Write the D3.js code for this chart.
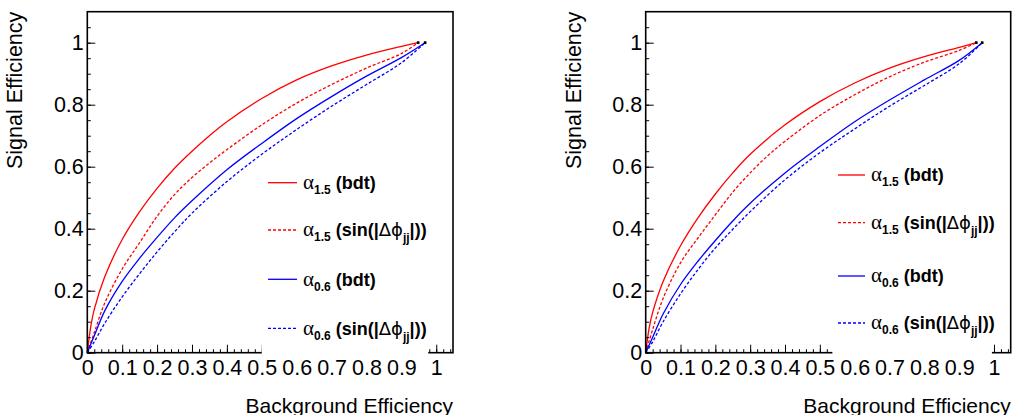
<!DOCTYPE html>
<html>
<head>
<meta charset="utf-8">
<script src="https://cdn.jsdelivr.net/npm/d3@7"></script>
<style>
  body { margin: 0; background: #fff; }
  svg { display: block; }
  text { font-family: "Liberation Sans", Arial, Helvetica, sans-serif; fill: #000; }
</style>
</head>
<body>
<div id="viz"></div>
<script>
'use strict';

// ROC curves: [background efficiency, signal efficiency]
const leftRedBdt = [[0,0],[0.01,0.085],[0.02,0.14],[0.05,0.245],[0.1,0.365],[0.15,0.455],[0.2,0.53],[0.25,0.595],
  [0.3,0.65],[0.35,0.7],[0.4,0.745],[0.5,0.82],[0.6,0.88],[0.7,0.925],[0.8,0.96],[0.9,0.988],[0.948,1]];
const leftRedSin = [[0,0],[0.02,0.065],[0.05,0.16],[0.1,0.27],[0.15,0.355],[0.2,0.44],[0.25,0.51],[0.3,0.565],
  [0.35,0.612],[0.4,0.655],[0.5,0.735],[0.6,0.805],[0.7,0.865],[0.8,0.918],[0.9,0.965],[0.948,1]];
const leftBlueBdt = [[0,0],[0.02,0.055],[0.05,0.135],[0.1,0.23],[0.15,0.305],[0.2,0.372],[0.25,0.435],[0.3,0.49],
  [0.4,0.59],[0.5,0.675],[0.6,0.755],[0.7,0.826],[0.8,0.892],[0.9,0.952],[0.968,1]];
const leftBlueSin = [[0,0],[0.02,0.035],[0.05,0.095],[0.1,0.18],[0.15,0.255],[0.2,0.325],[0.25,0.39],[0.3,0.45],
  [0.4,0.552],[0.5,0.64],[0.6,0.72],[0.7,0.795],[0.8,0.865],[0.9,0.935],[0.968,1]];

const rightRedBdt = [[0,0],[0.01,0.08],[0.02,0.13],[0.05,0.23],[0.1,0.345],[0.15,0.435],[0.2,0.512],[0.25,0.58],
  [0.3,0.64],[0.4,0.735],[0.5,0.81],[0.6,0.87],[0.7,0.918],[0.8,0.955],[0.9,0.985],[0.949,1]];
const rightRedSin = [[0,0],[0.02,0.075],[0.05,0.175],[0.1,0.29],[0.15,0.37],[0.2,0.445],[0.25,0.518],[0.3,0.58],
  [0.35,0.635],[0.4,0.682],[0.5,0.765],[0.6,0.832],[0.7,0.89],[0.8,0.937],[0.9,0.975],[0.949,1]];
const rightBlueBdt = [[0,0],[0.02,0.05],[0.05,0.125],[0.1,0.22],[0.15,0.295],[0.2,0.362],[0.25,0.425],[0.3,0.482],
  [0.4,0.58],[0.5,0.665],[0.6,0.745],[0.7,0.815],[0.8,0.88],[0.9,0.943],[0.966,1]];
const rightBlueSin = [[0,0],[0.02,0.035],[0.05,0.1],[0.1,0.19],[0.15,0.268],[0.2,0.338],[0.25,0.398],[0.3,0.455],
  [0.4,0.558],[0.5,0.645],[0.6,0.722],[0.7,0.795],[0.8,0.862],[0.9,0.932],[0.966,1]];

const xMajor = [0, 0.1, 0.2, 0.3, 0.4, 0.5, 0.6, 0.7, 0.8, 0.9, 1];
const xLabels = ['0', '0.1', '0.2', '0.3', '0.4', '0.5', '0.6', '0.7', '0.8', '0.9', '1'];
const yMajor = [0, 0.2, 0.4, 0.6, 0.8, 1];
const yLabels = ['0', '0.2', '0.4', '0.6', '0.8', '1'];

// legend: subscript of alpha and discriminating variable, drawn in this order
const legendSubs = ['1.5', '1.5', '0.6', '0.6'];
const legendVars = ['bdt', 'sin', 'bdt', 'sin'];

const xTitle = 'Background Efficiency';
const yTitle = 'Signal Efficiency';

const W = 1012, H = 415;

const svg = d3.select('#viz')
  .append('svg')
    .attr('width', W)
    .attr('height', H);

const panels = [
  {left: 87.3, top: 11.7, width: 365.7, height: 341, gap: [0.5, 0.977],
    legX: 268, legLen: 29, legY: [182.7, 230, 279.3, 328.3], yTitleX: 22,
    series: [leftRedBdt, leftRedSin, leftBlueBdt, leftBlueSin]},
  {left: 645.7, top: 11.7, width: 365, height: 341, gap: [0.536, 0.994],
    legX: 838, legLen: 27, legY: [175, 222.7, 276, 323], yTitleX: 580.5,
    series: [rightRedBdt, rightRedSin, rightBlueBdt, rightBlueSin]}
];

const styles = [
  {color: '#ff0000', dash: null},
  {color: '#ff0000', dash: '3,2'},
  {color: '#0000ff', dash: null},
  {color: '#0000ff', dash: '3,2'}
];

function range(a, b, step) {
  const out = [];
  for (let v = a; v <= b + 1e-9; v += step) out.push(+v.toFixed(4));
  return out;
}

panels.forEach(p => drawPanel(p));

function drawPanel(p) {
  const g = svg.append('g')
    .attr('transform', `translate(${p.left},${p.top})`);

  const x = d3.scaleLinear().domain([0, 1.048]).range([0, p.width]);
  const y = d3.scaleLinear().domain([0, 1.1]).range([p.height, 0]);

  const line = d3.line()
    .x(d => x(d[0]))
    .y(d => y(d[1]))
    .curve(d3.curveCatmullRom.alpha(0.5));

  // curves
  p.series.forEach((data, i) => {
    g.append('path')
      .datum(data)
      .attr('fill', 'none')
      .attr('stroke', styles[i].color)
      .attr('stroke-width', 1.3)
      .attr('stroke-dasharray', styles[i].dash)
      .attr('d', line);
  });

  // tiny black end markers
  p.series.forEach(data => {
    const last = data[data.length - 1];
    g.append('rect')
      .attr('x', x(last[0]) - 1.2)
      .attr('y', y(last[1]) - 1.2)
      .attr('width', 2.4)
      .attr('height', 2.4)
      .attr('fill', '#000');
  });

  // y axis: minor + major ticks pointing inward
  g.append('g')
    .call(d3.axisLeft(y).tickValues(range(0, 1.05, 0.05)).tickSize(-3.5).tickFormat(''))
    .call(a => a.select('.domain').remove());
  g.append('g')
    .call(d3.axisLeft(y).tickValues(yMajor).tickSize(-8).tickPadding(3.5)
      .tickFormat((d, i) => yLabels[i]))
    .call(a => a.select('.domain').remove())
    .call(a => a.selectAll('text').attr('font-size', 21.5).attr('font-family', '"Liberation Sans", Arial, sans-serif'));

  // x axis
  g.append('g')
    .attr('transform', `translate(0,${p.height})`)
    .call(d3.axisBottom(x).tickValues(range(0, 1.04, 0.02)).tickSize(-3.5).tickFormat(''))
    .call(a => a.select('.domain').remove());
  g.append('g')
    .attr('transform', `translate(0,${p.height})`)
    .call(d3.axisBottom(x).tickValues(xMajor).tickSize(-8).tickPadding(7.5)
      .tickFormat((d, i) => xLabels[i]))
    .call(a => a.select('.domain').remove())
    .call(a => a.selectAll('text').attr('font-size', 21.5).attr('font-family', '"Liberation Sans", Arial, sans-serif'));

  g.selectAll('.tick line').attr('stroke', '#000').attr('stroke-width', 1);

  // frame
  g.append('rect')
    .attr('x', 0).attr('y', 0)
    .attr('width', p.width).attr('height', p.height)
    .attr('fill', 'none')
    .attr('stroke', '#000')
    .attr('stroke-width', 1.6);

  // white legend box hides part of the bottom axis
  const boxTop = p.legY[0] - p.top - 25;
  g.append('rect')
    .attr('x', x(p.gap[0]))
    .attr('y', boxTop)
    .attr('width', x(p.gap[1]) - x(p.gap[0]))
    .attr('height', p.height - boxTop + 1.5)
    .attr('fill', '#fff');

  // legend
  p.legY.forEach((ly, i) => {
    const yy = ly - p.top;
    const lx = p.legX - p.left;
    g.append('line')
      .attr('x1', lx).attr('x2', lx + p.legLen)
      .attr('y1', yy).attr('y2', yy)
      .attr('stroke', styles[i].color)
      .attr('stroke-width', 1.3)
      .attr('stroke-dasharray', styles[i].dash);

    const t = g.append('text')
      .attr('x', lx + p.legLen + 6)
      .attr('y', yy + 6.5)
      .attr('font-size', 18)
      .attr('font-weight', 'bold');
    t.append('tspan')
      .attr('font-family', '"Liberation Serif", "DejaVu Serif", serif')
      .attr('font-weight', 'normal')
      .attr('font-size', 21)
      .text('α');
    t.append('tspan')
      .attr('font-size', 12)
      .attr('dy', 5)
      .text(legendSubs[i]);
    if (legendVars[i] === 'bdt') {
      t.append('tspan').attr('dy', -5).text(' (bdt)');
    } else {
      t.append('tspan').attr('dy', -5).text(' (sin(|');
      t.append('tspan')
        .attr('font-family', '"DejaVu Sans", sans-serif')
        .attr('font-weight', 'normal')
        .attr('font-size', 18)
        .text('Δϕ');
      t.append('tspan')
        .attr('font-size', 12)
        .attr('dy', 6)
        .text('jj');
      t.append('tspan').attr('dy', -6).text('|))');
    }
  });

  // axis titles
  svg.append('text')
    .attr('x', p.left + p.width)
    .attr('y', 413)
    .attr('text-anchor', 'end')
    .attr('font-size', 21)
    .text(xTitle);

  svg.append('text')
    .attr('transform', `translate(${p.yTitleX},${p.top}) rotate(-90)`)
    .attr('text-anchor', 'end')
    .attr('font-size', 21.5)
    .text(yTitle);
}
</script>
</body>
</html>
